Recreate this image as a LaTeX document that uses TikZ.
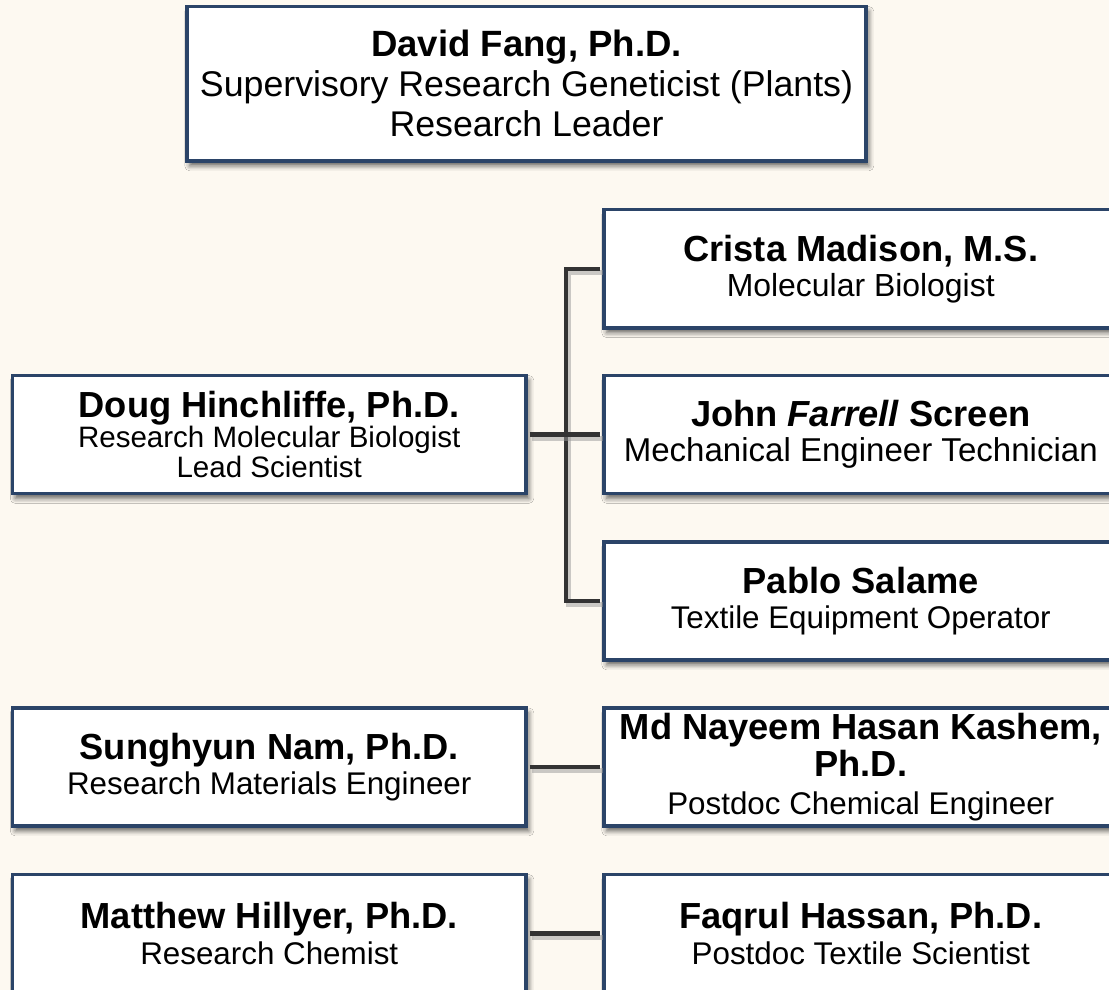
\documentclass[tikz,border=0pt]{standalone}
\usepackage{fontspec}
\setmainfont{Liberation Sans}
\usepackage{tikz}
\usetikzlibrary{shadows.blur}
\definecolor{boxnavy}{HTML}{2B4468}
\definecolor{linkgray}{HTML}{333333}
\definecolor{paper}{HTML}{FDF9F1}
\newcommand{\pname}[1]{{\fontsize{25.8pt}{25pt}\selectfont\bfseries #1}}
\tikzstyle{person} = [rectangle, 
minimum width=12.84cm, 
minimum height=2.95cm, 
inner sep=0pt, 
align=center, 
font=\fontsize{22.3pt}{25pt}\selectfont, 
draw=boxnavy, 
line width=2.5pt, 
fill=white, 
blur shadow={shadow xshift=2pt, shadow yshift=-3.5pt, shadow blur radius=3.5pt, shadow opacity=60}]
\tikzstyle{link} = [line width=2.9pt, draw=linkgray, shorten <=1.2pt, shorten >=1.2pt, 
preaction={draw=black!40, opacity=0.5, line width=3.5pt, transform canvas={shift={(1.8pt,-2.8pt)}}}]

\begin{document}
\begin{tikzpicture}[x=0.025cm, y=-0.025cm]
    \useasboundingbox (0,0) rectangle (1109,990);
    \fill [paper] (0,0) rectangle (1109,990);
    \clip (0,0) rectangle (1109,990);

    % Leader
    \node (dfang) [person, minimum width=16.975cm, minimum height=3.86cm, font=\fontsize{25.4pt}{28.5pt}\selectfont] at (526.5,83.75)
        {{\fontsize{26pt}{28.5pt}\selectfont\bfseries David Fang, Ph.D.}\\Supervisory Research Geneticist (Plants)\\Research Leader};

    % Left column
    \node (dhinch) [person, font=\fontsize{21pt}{21.5pt}\selectfont] at (269.25,434.5)
        {\pname{Doug Hinchliffe, Ph.D.}\\Research Molecular Biologist\\Lead Scientist};
    \node (snam) [person] at (269.25,767) {\pname{Sunghyun Nam, Ph.D.}\\Research Materials Engineer};
    \node (mhillyer) [person] at (269.25,933.5) {\pname{Matthew Hillyer, Ph.D.}\\Research Chemist};

    % Right column
    \node (cmadison) [person, font=\fontsize{22.7pt}{25pt}\selectfont] at (860.75,268.75) {\pname{Crista Madison, M.S.}\\Molecular Biologist};
    \node (jscreen) [person, font=\fontsize{23.5pt}{25pt}\selectfont] at (860.75,434.5) {\pname{John \textit{Farrell} Screen}\\Mechanical Engineer Technician};
    \node (psalame) [person] at (860.75,601) {\pname{Pablo Salame}\\Textile Equipment Operator};
    \node (mkashem) [person, font=\fontsize{22.3pt}{26.5pt}\selectfont] at (860.75,767) {\pname{Md Nayeem Hasan Kashem,}\\\pname{Ph.D.}\\Postdoc Chemical Engineer};
    \node (fhassan) [person] at (860.75,933.5) {\pname{Faqrul Hassan, Ph.D.}\\Postdoc Textile Scientist};

    % Connectors
    \coordinate (fork) at (566,434.5);
    \draw [link] (cmadison.west) -| (fork) |- (psalame.west);
    \draw [link] (dhinch.east) -- (jscreen.west);
    \draw [link] (snam.east) -- (mkashem.west);
    \draw [link] (mhillyer.east) -- (fhassan.west);
\end{tikzpicture}
\end{document}
